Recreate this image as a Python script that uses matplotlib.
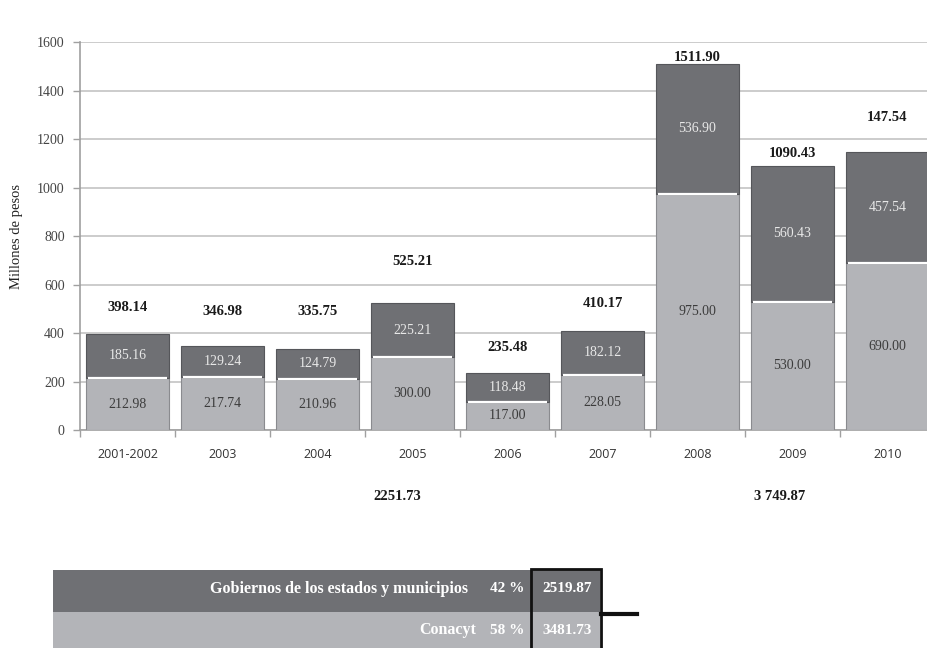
import numpy as np
import matplotlib.pyplot as plt
from matplotlib.patches import Rectangle
from matplotlib.lines import Line2D

# datos (millones de pesos)
years = ['2001-2002', '2003', '2004', '2005', '2006', '2007', '2008', '2009', '2010']
conacyt = [212.98, 217.74, 210.96, 300.00, 117.00, 228.05, 975.00, 530.00, 690.00]
gobiernos = [185.16, 129.24, 124.79, 225.21, 118.48, 182.12, 536.90, 560.43, 457.54]
top_labels = ['398.14', '346.98', '335.75', '525.21', '235.48', '410.17', '1511.90', '1090.43', '147.54']
bottom_labels = ['2251.73', '3 749.87']
table_rows = ['Gobiernos de los estados y municipios', 'Conacyt']
table_pct = ['42 %', '58 %']
table_tot = ['2519.87', '3481.73']

# posiciones de las etiquetas superiores (en unidades del eje y)
top_label_y = [507, 487, 487, 697, 342, 524, 1539, 1143, 1288]

W, H = 927, 648
dark = '#6f7074'
light = '#b3b4b8'
serif = 'Liberation Serif'

fig = plt.figure(figsize=(W / 100, H / 100), dpi=100)

def fx(px):
    return px / W

def fy(py):
    return 1 - py / H

ax = fig.add_axes([fx(80), fy(430), fx(935) - fx(80), fy(42.3) - fy(430)])

x = np.arange(len(years))
bw = 0.88
ax.bar(x, conacyt, width=bw, color=light, edgecolor='#8a8b8f', linewidth=0.8, zorder=3)
ax.bar(x, gobiernos, width=bw, bottom=conacyt, color=dark, edgecolor='#55565a',
       linewidth=0.8, zorder=3)
# brillo blanco en la union de los segmentos
ax.hlines(conacyt, x - bw / 2 + 0.02, x + bw / 2 - 0.02, color='white', linewidth=1.6, zorder=4)

for i in range(len(years)):
    ax.text(x[i], conacyt[i] / 2, f'{conacyt[i]:.2f}', ha='center', va='center',
            fontsize=10, family=serif, color='#3c3c3c', zorder=5)
    ax.text(x[i], conacyt[i] + gobiernos[i] / 2, f'{gobiernos[i]:.2f}', ha='center',
            va='center', fontsize=10, family=serif, color='#e8e8e8', zorder=5)
    ax.text(x[i], top_label_y[i], top_labels[i], ha='center', va='center',
            fontsize=10.5, family=serif, fontweight='bold', color='#1a1a1a',
            clip_on=False, zorder=5)

ax.set_xlim(-0.5, len(years) - 0.5)
ax.set_ylim(0, 1600)
ax.set_yticks(np.arange(0, 1601, 200))
ax.yaxis.grid(True, color='#c4c4c4', linewidth=1.2, zorder=0)
ax.set_axisbelow(True)

ax.set_xticks(x)
ax.set_xticklabels(years, family='Open Sans', fontsize=9, color='#333333')
ax.set_xticks(np.arange(len(years) + 1) - 0.5, minor=True)
ax.tick_params(axis='x', which='major', length=0, pad=13)
ax.tick_params(axis='x', which='minor', length=5, color='#a0a0a0', width=1)
ax.tick_params(axis='y', length=5, color='#a0a0a0', width=1, pad=6, labelsize=10,
               labelcolor='#444444')
for lab in ax.get_yticklabels():
    lab.set_family(serif)

for s in ['top', 'right']:
    ax.spines[s].set_visible(False)
for s in ['left', 'bottom']:
    ax.spines[s].set_color('#a0a0a0')
    ax.spines[s].set_linewidth(1.2)

fig.text(fx(17), fy(236), 'Millones de pesos', rotation=90, ha='center', va='center',
         family=serif, fontsize=10.5, color='#222222')

# totales por periodo
fig.text(fx(397), fy(497), bottom_labels[0], ha='center', va='center', family=serif,
         fontsize=10.5, fontweight='bold', color='#1a1a1a')
fig.text(fx(780), fy(497), bottom_labels[1], ha='center', va='center', family=serif,
         fontsize=10.5, fontweight='bold', color='#1a1a1a')

# tabla resumen
row_top = [570, 612]
row_bot = [612, 660]
row_col = [dark, light]
row_text_y = [589, 630]
row_text_x = [468, 476]
for r in range(2):
    fig.patches.append(Rectangle((fx(53), fy(row_bot[r])), fx(600) - fx(53),
                                 fy(row_top[r]) - fy(row_bot[r]), transform=fig.transFigure,
                                 facecolor=row_col[r], edgecolor='none'))
    fig.text(fx(row_text_x[r]), fy(row_text_y[r]), table_rows[r], ha='right', va='center',
             family=serif, fontsize=11.5, fontweight='bold', color='white')
    fig.text(fx(507), fy(row_text_y[r]), table_pct[r], ha='center', va='center',
             family=serif, fontsize=11, fontweight='bold', color='white')
    fig.text(fx(567), fy(row_text_y[r]), table_tot[r], ha='center', va='center',
             family=serif, fontsize=11, fontweight='bold', color='white')

fig.patches.append(Rectangle((fx(531), fy(660)), fx(601) - fx(531), fy(569) - fy(660),
                             transform=fig.transFigure, facecolor='none',
                             edgecolor='#111111', linewidth=2))
fig.lines.append(Line2D([fx(601), fx(637)], [fy(614), fy(614)], transform=fig.transFigure,
                        color='#111111', linewidth=3))

fig.savefig('out.png', dpi=100)
